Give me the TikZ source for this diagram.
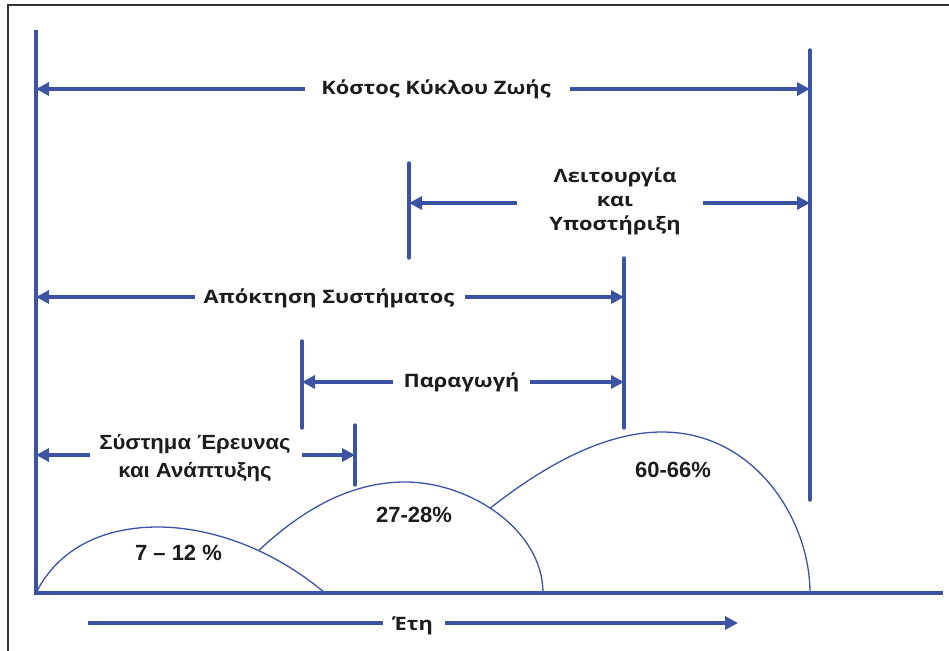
\documentclass[tikz,border=0pt]{standalone}
\usepackage{fontspec}
\setmainfont{Open Sans}[FakeStretch=1.18]
\newfontfamily\arialfont{Liberation Sans}
\newfontfamily\arialwide{Liberation Sans}[FakeStretch=1.08]
\usetikzlibrary{arrows.meta}

\definecolor{lineblue}{HTML}{3C53A4}
\definecolor{ink}{HTML}{1C1C1C}
\definecolor{framegrey}{HTML}{333333}

\begin{document}
\begin{tikzpicture}[x=1pt,y=-1pt,
  bar/.style={draw=lineblue,line width=3.4pt,line cap=round},
  arr/.style={draw=lineblue,line width=3.4pt,-{Triangle[length=13pt,width=13pt]}},
  hump/.style={draw=lineblue,line width=1.3pt},
  lbl/.style={text=ink,font=\bfseries\fontsize{18.5}{23}\selectfont,inner sep=0pt,anchor=base},
  pct/.style={text=ink,font=\arialfont\bfseries\fontsize{22}{26}\selectfont,inner sep=0pt,anchor=base},
  rdlbl/.style={text=ink,font=\arialwide\bfseries\fontsize{20.5}{24}\selectfont,inner sep=0pt,anchor=base}]

\useasboundingbox (0,0) rectangle (949,650);

% page frame
\draw[line width=2pt,draw=framegrey] (8,652) -- (8,5) -- (951,5);

% axes
\coordinate (axisTop) at (36,30);
\coordinate (origin) at (36,593);
\coordinate (xEnd) at (943,593);
\draw[bar,line cap=butt] (axisTop) -- (origin) -- (xEnd);

% phase boundary markers
\coordinate (lcTop) at (810,50);   \coordinate (lcBot) at (810,500);
\coordinate (opTop) at (409,163);  \coordinate (opBot) at (409,258);
\coordinate (acqTop) at (624,258); \coordinate (acqBot) at (624,428);
\coordinate (prodTop) at (302,341);\coordinate (prodBot) at (302,428);
\coordinate (rdTop) at (355,425);  \coordinate (rdBot) at (355,485);
\foreach \t/\b in {lcTop/lcBot,opTop/opBot,acqTop/acqBot,prodTop/prodBot,rdTop/rdBot}
  \draw[bar] (\t) -- (\b);

% life cycle cost
\node[lbl] (lcc) at (436,95) {Κόστος Κύκλου Ζωής};
\coordinate (lccL) at (305,89); \coordinate (lccR) at (570,89);
\draw[arr] (lccL) -- (lccL -| origin);
\draw[arr] (lccR) -- (lccR -| lcTop);

% operation and support
\node[lbl] (ops1) at (615,182) {Λειτουργία};
\node[lbl] (ops2) at (615,206) {και};
\node[lbl] (ops3) at (615,230) {Υποστήριξη};
\coordinate (opsL) at (517,203); \coordinate (opsR) at (703,203);
\draw[arr] (opsL) -- (opsL -| opTop);
\draw[arr] (opsR) -- (opsR -| lcTop);

% system acquisition
\node[lbl] (acq) at (329,303) {Απόκτηση Συστήματος};
\coordinate (acqL) at (195,297); \coordinate (acqR) at (465,297);
\draw[arr] (acqL) -- (acqL -| origin);
\draw[arr] (acqR) -- (acqR -| acqTop);

% production
\node[lbl] (prod) at (461.5,387) {Παραγωγή};
\coordinate (prodL) at (393,382); \coordinate (prodR) at (530,382);
\draw[arr] (prodL) -- (prodL -| prodTop);
\draw[arr] (prodR) -- (prodR -| acqTop);

% research and development
\node[rdlbl] (rd1) at (195,449) {Σύστημα Έρευνας};
\node[rdlbl] (rd2) at (195,477) {και Ανάπτυξης};
\coordinate (rdL) at (90,455); \coordinate (rdR) at (302,455);
\draw[arr] (rdL) -- (rdL -| origin);
\draw[arr] (rdR) -- (rdR -| rdTop);

% cost curves, each later one starting on the one before
\coordinate (h1a) at (36,593);
\coordinate (h1p) at (158,527);
\coordinate (h1b) at (325,593);
\draw[hump] (h1a) .. controls (60,545) and (108,527) .. (h1p)
                  .. controls (205,527) and (268,545) .. (h1b)
                  coordinate[pos=0.62] (h2a);
\coordinate (h2p) at (405,482);
\coordinate (h2b) at (543,593);
\draw[hump] (h2a) .. controls (302,510) and (350,482) .. (h2p)
                  .. controls (470,482) and (543,530) .. (h2b)
                  coordinate[pos=0.45] (h3a);
\coordinate (h3p) at (662,432);
\coordinate (h3b) at (810,593);
\draw[hump] (h3a) .. controls (545,465) and (605,432) .. (h3p)
                  .. controls (755,432) and (810,520) .. (h3b);

\node[pct] (p1) at (178.5,560) {7 – 12 \%};
\node[pct] (p2) at (414,522) {27-28\%};
\node[pct] (p3) at (673,477) {60-66\%};

% years
\node[lbl] (years) at (413,630) {Έτη};
\coordinate (yrA) at (88,623); \coordinate (yrB) at (383,623);
\coordinate (yrC) at (445,623); \coordinate (yrD) at (738,623);
\draw[bar,line cap=butt] (yrA) -- (yrB);
\draw[arr] (yrC) -- (yrD);
\end{tikzpicture}
\end{document}
